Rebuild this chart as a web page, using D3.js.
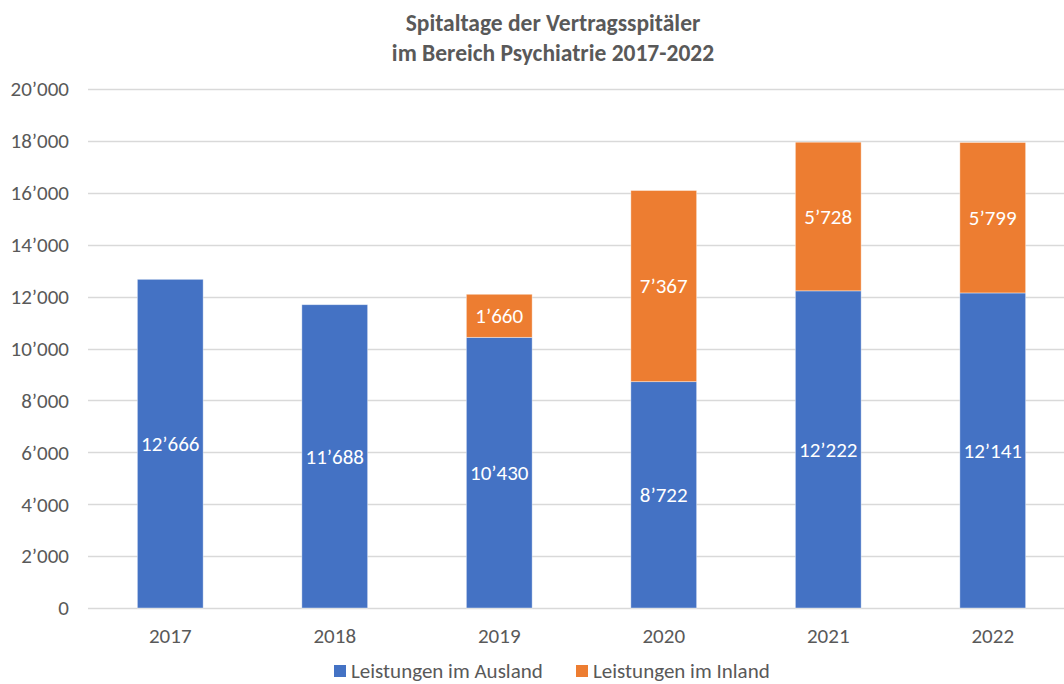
<!DOCTYPE html>
<html>
<head>
<meta charset="utf-8">
<script src="https://cdn.jsdelivr.net/npm/d3@7"></script>
<style>
  body { margin: 0; background: #fff; }
  text { font-family: Carlito, Lato, "Open Sans", sans-serif; }
</style>
</head>
<body>
<div id="chart"></div>
<script>
// Spitaltage der Vertragsspitäler, stacked bars

const years = ["2017", "2018", "2019", "2020", "2021", "2022"]
const ausland = [12666, 11688, 10430, 8722, 12222, 12141]
const inland = [0, 0, 1660, 7367, 5728, 5799]
const seriesNames = ["Leistungen im Ausland", "Leistungen im Inland"]
const colors = ["#4472C4", "#ED7D31"]
const yTicks = [0, 2000, 4000, 6000, 8000, 10000, 12000, 14000, 16000, 18000, 20000]

const WIDTH = 1064
const HEIGHT = 684
const MARGIN = {TOP: 89, LEFT: 88, BOTTOM: 76}
const PLOT_RIGHT = MARGIN.LEFT + 6 * 164.5   // last band is cut off by the frame
const FONT = "21px"

const fmt = v => d3.format(",")(v).replace(/,/g, "’")

const svg = d3.select("#chart")
  .append("svg")
    .attr("width", WIDTH)
    .attr("height", HEIGHT)

const x = d3.scaleBand()
  .domain(years)
  .range([MARGIN.LEFT, PLOT_RIGHT])
  .paddingInner(0.6)
  .paddingOuter(0.3)

const y = d3.scaleLinear()
  .domain([0, 20000])
  .range([HEIGHT - MARGIN.BOTTOM, MARGIN.TOP])

// gridlines
svg.append("g")
  .selectAll("line")
  .data(yTicks)
  .enter()
  .append("line")
    .attr("x1", MARGIN.LEFT)
    .attr("x2", WIDTH)
    .attr("y1", d => Math.round(y(d)) + 0.5)
    .attr("y2", d => Math.round(y(d)) + 0.5)
    .attr("stroke", "#d9d9d9")
    .attr("stroke-width", 1.3)

// y tick labels
svg.append("g")
  .selectAll("text")
  .data(yTicks)
  .enter()
  .append("text")
    .attr("x", 69)
    .attr("y", d => y(d))
    .attr("dy", "0.35em")
    .attr("text-anchor", "end")
    .attr("fill", "#595959")
    .style("font-size", FONT)
    .text(fmt)

// stacked data
const rows = years.map((yr, i) => ({year: yr, a: ausland[i], b: inland[i]}))
const stack = d3.stack().keys(["a", "b"])(rows)

stack.forEach((layer, k) => {
  const g = svg.append("g")
  g.selectAll("rect")
    .data(layer.filter(d => d[1] > d[0]))
    .enter()
    .append("rect")
      .attr("x", d => x(d.data.year))
      .attr("width", x.bandwidth())
      .attr("y", d => y(d[1]))
      .attr("height", d => y(d[0]) - y(d[1]))
      .attr("fill", colors[k])
      .attr("stroke", "#fff")
      .attr("stroke-opacity", 0.5)
      .attr("stroke-width", 0.8)

  g.selectAll("text")
    .data(layer.filter(d => d[1] > d[0]))
    .enter()
    .append("text")
      .attr("x", d => x(d.data.year) + x.bandwidth() / 2)
      .attr("y", d => y((d[0] + d[1]) / 2))
      .attr("dy", "0.35em")
      .attr("text-anchor", "middle")
      .attr("fill", "#fff")
      .style("font-size", FONT)
      .text(d => fmt(d[1] - d[0]))
})

// x labels
svg.append("g")
  .selectAll("text")
  .data(years)
  .enter()
  .append("text")
    .attr("x", d => x(d) + x.bandwidth() / 2)
    .attr("y", 636)
    .attr("dy", "0.35em")
    .attr("text-anchor", "middle")
    .attr("fill", "#595959")
    .style("font-size", FONT)
    .text(d => d)

// title
const title = svg.append("text")
  .attr("text-anchor", "middle")
  .attr("fill", "#595959")
  .style("font-size", "23.5px")
  .style("font-weight", "bold")
title.append("tspan").attr("x", 553).attr("y", 31).text("Spitaltage der Vertragsspitäler")
title.append("tspan").attr("x", 553).attr("y", 61).text("im Bereich Psychiatrie 2017-2022")

// legend
const legendX = [334, 576]
const legend = svg.append("g")
  .selectAll("g")
  .data(seriesNames)
  .enter()
  .append("g")
    .attr("transform", (d, i) => "translate(" + legendX[i] + ",671)")
legend.append("rect")
  .attr("x", 0)
  .attr("y", -6)
  .attr("width", 12)
  .attr("height", 12)
  .attr("fill", (d, i) => colors[i])
legend.append("text")
  .attr("x", 17)
  .attr("y", 0)
  .attr("dy", "0.35em")
  .attr("fill", "#595959")
  .style("font-size", FONT)
  .text(d => d)
</script>
</body>
</html>
